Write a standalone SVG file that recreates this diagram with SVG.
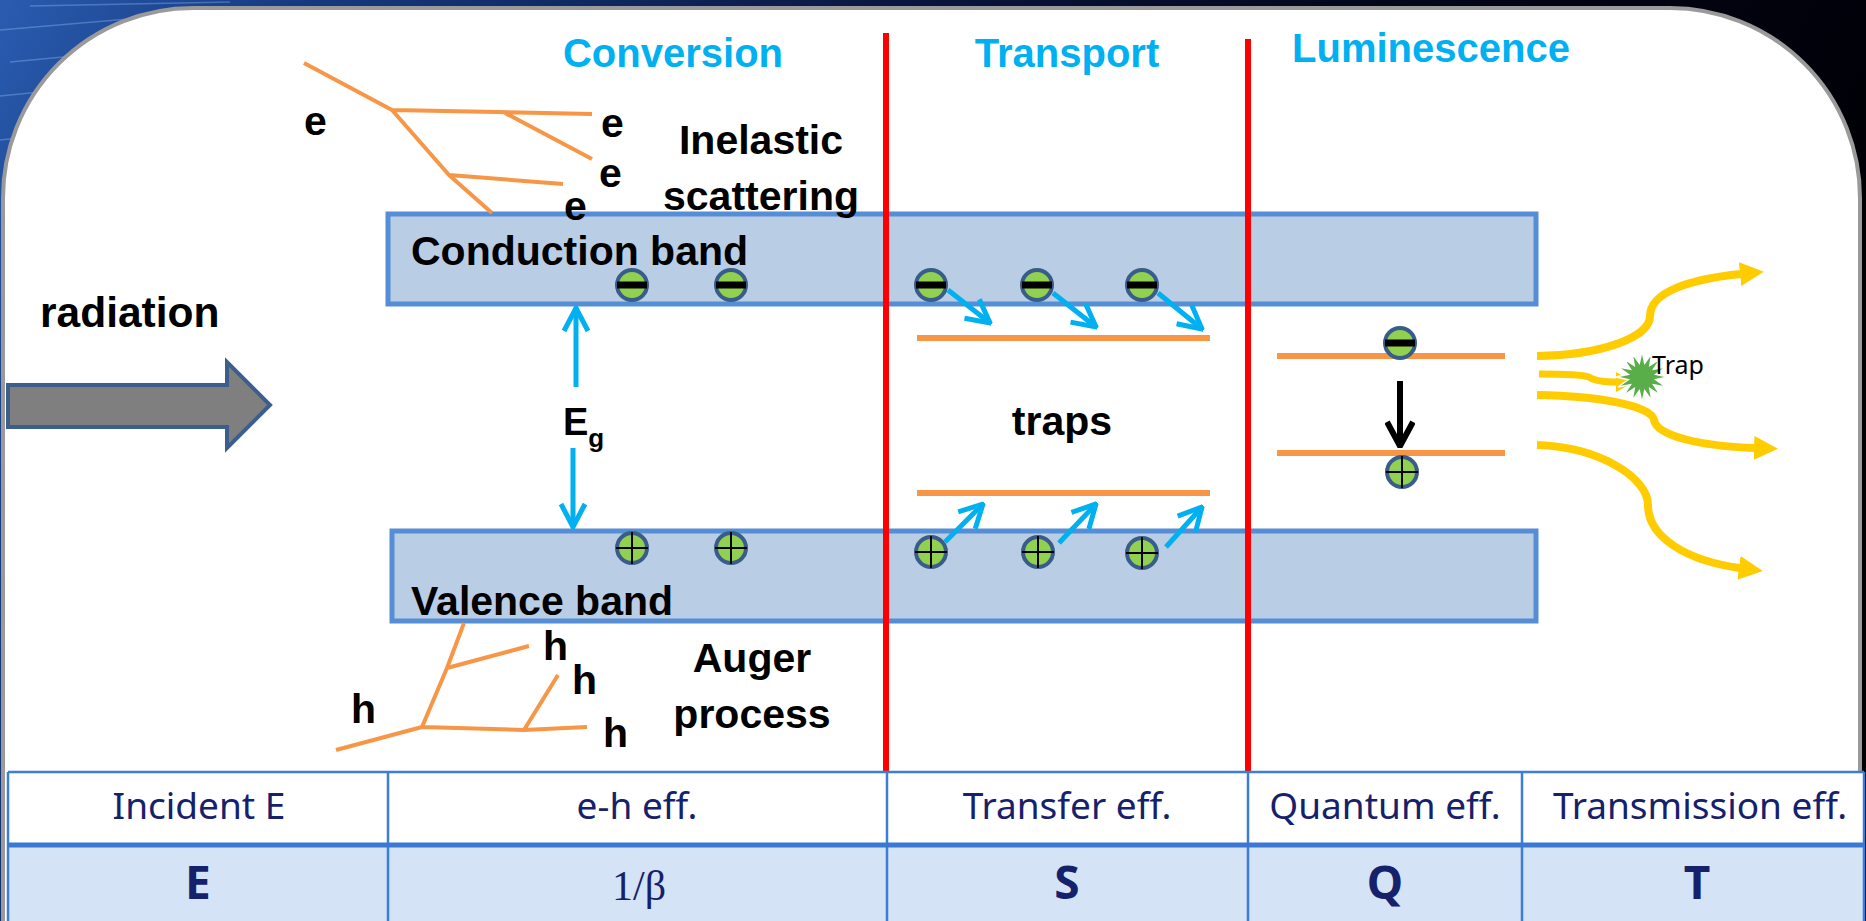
<svg xmlns="http://www.w3.org/2000/svg" width="1866" height="921" viewBox="0 0 1866 921">
  <style>
    .title{font-family:"Liberation Sans",Arial,sans-serif;font-weight:bold;font-size:40px;fill:#00b0f0;text-anchor:middle}
    .lbl{font-family:"Liberation Sans",Arial,sans-serif;font-weight:bold;font-size:41px;fill:#000}
    .mid{text-anchor:middle}
    .band{fill:#b9cde5;stroke:#558ed5;stroke-width:5}
    .sep{stroke:#ff0000;stroke-width:6}
    .track{stroke:#f79646;stroke-width:4;fill:none;stroke-linejoin:round}
    .level{stroke:#f79646;stroke-width:6}
    .carrier{fill:#92d050;stroke:#385d8a;stroke-width:4}
    .plus{stroke:#000;stroke-width:2}
    .cyan{stroke:#00b0f0;stroke-width:5;fill:none;marker-end:url(#cyanHead)}
    .drop{stroke:#000;stroke-width:6;fill:none;marker-end:url(#blackHead)}
    .photon{stroke:#ffcc00;stroke-width:8;fill:none;marker-end:url(#yellowHead)}
    .grid{stroke:#3c7dd8;stroke-width:2.5;fill:none}
    .hdr{font-family:"Comic Sans MS","Noto Sans",sans-serif;font-size:37px;fill:#16216b;text-anchor:middle}
    .val{font-family:"Comic Sans MS","Noto Sans",sans-serif;font-weight:bold;font-size:46px;fill:#16216b;text-anchor:middle}
  </style>
  <defs>
    <linearGradient id="bgGrad" x1="0" y1="0" x2="1" y2="0.25">
      <stop offset="0" stop-color="#2a5cb0"/>
      <stop offset="0.15" stop-color="#163a80"/>
      <stop offset="0.45" stop-color="#0a1640"/>
      <stop offset="0.7" stop-color="#03061a"/>
      <stop offset="1" stop-color="#000005"/>
    </linearGradient>
    <marker id="cyanHead" viewBox="0 0 30 30" refX="28" refY="15" markerWidth="30" markerHeight="30" markerUnits="userSpaceOnUse" orient="auto">
      <path d="M5,3 L28,15 L5,27" fill="none" stroke="#00b0f0" stroke-width="5"/>
    </marker>
    <marker id="blackHead" viewBox="0 0 30 30" refX="28" refY="15" markerWidth="30" markerHeight="30" markerUnits="userSpaceOnUse" orient="auto">
      <path d="M4,2 L28,15 L4,28" fill="none" stroke="#000" stroke-width="6"/>
    </marker>
    <marker id="yellowHead" viewBox="0 0 24 24" refX="1" refY="12" markerWidth="24" markerHeight="24" markerUnits="userSpaceOnUse" orient="auto">
      <path d="M0,0 L24,12 L0,24 Z" fill="#ffcc00"/>
    </marker>
    <marker id="yellowHeadSmall" viewBox="0 0 18 20" refX="1" refY="10" markerWidth="18" markerHeight="20" markerUnits="userSpaceOnUse" orient="auto">
      <path d="M0,0 L18,10 L0,20 Z" fill="#ffcc00"/>
    </marker>
    <g id="electron">
      <circle r="15" class="carrier"/>
      <rect x="-15" y="-3.5" width="30" height="7" fill="#000"/>
    </g>
    <g id="hole">
      <circle r="15" class="carrier"/>
      <line x1="-16" y1="0" x2="16" y2="0" class="plus"/>
      <line x1="0" y1="-16" x2="0" y2="16" class="plus"/>
    </g>
  </defs>

  <!-- backdrop and slide panel -->
  <g id="backdrop">
    <rect x="0" y="0" width="1866" height="921" fill="url(#bgGrad)"/>
    <g stroke="#9cc4ff" stroke-opacity="0.35" stroke-width="1.5">
      <line x1="0" y1="30" x2="140" y2="18"/>
      <line x1="10" y1="62" x2="95" y2="54"/>
      <line x1="0" y1="96" x2="70" y2="89"/>
      <line x1="30" y1="6" x2="230" y2="2"/>
      <line x1="0" y1="140" x2="40" y2="136"/>
    </g>
    <rect x="3" y="8" width="1857" height="1200" rx="190" fill="#ffffff" stroke="#9a9a9a" stroke-width="4"/>
  </g>

  <!-- stage titles -->
  <g id="titles">
    <text class="title" x="673" y="67">Conversion</text>
    <text class="title" x="1067" y="67">Transport</text>
    <text class="title" x="1431" y="62">Luminescence</text>
  </g>

  <!-- incoming radiation -->
  <g id="radiation">
    <text class="lbl" x="40" y="327" style="font-size:42.5px">radiation</text>
    <polygon points="8,385 227,385 227,362 270,405 227,448 227,427 8,427" fill="#7f7f7f" stroke="#3b5e8c" stroke-width="4"/>
  </g>

  <!-- energy bands -->
  <g id="conduction-band">
    <rect class="band" x="388" y="214" width="1148" height="90"/>
    <text class="lbl" x="411" y="265">Conduction band</text>
  </g>
  <g id="valence-band">
    <rect class="band" x="392" y="531" width="1144" height="90"/>
    <text class="lbl" x="411" y="615">Valence band</text>
  </g>

  <!-- inelastic scattering cascade -->
  <g id="scattering">
    <path class="track" d="M304,63 L392,110 L592,114 M505,113 L592,159 M392,110 L449,175 L492,213 M449,175 L563,184"/>
    <text class="lbl" x="304" y="135">e</text>
    <text class="lbl" x="601" y="137">e</text>
    <text class="lbl" x="599" y="187">e</text>
    <text class="lbl" x="564" y="220">e</text>
    <text class="lbl mid" x="761" y="154">Inelastic</text>
    <text class="lbl mid" x="761" y="210">scattering</text>
  </g>

  <!-- Auger cascade -->
  <g id="auger">
    <path class="track" d="M464,623 L447,668 L529,646 M447,668 L422,727 L336,750 M422,727 L524,730 L587,727 M524,730 L558,675"/>
    <text class="lbl" x="543" y="660">h</text>
    <text class="lbl" x="572" y="694">h</text>
    <text class="lbl" x="351" y="723">h</text>
    <text class="lbl" x="603" y="747">h</text>
    <text class="lbl mid" x="752" y="672">Auger</text>
    <text class="lbl mid" x="752" y="728">process</text>
  </g>

  <!-- band gap -->
  <g id="band-gap">
    <text class="lbl" x="563" y="435" style="font-size:38px">E<tspan dy="12" style="font-size:26px">g</tspan></text>
  </g>

  <!-- trap levels -->
  <g id="traps">
    <line class="level" x1="917" y1="338" x2="1210" y2="338"/>
    <line class="level" x1="917" y1="493" x2="1210" y2="493"/>
    <text class="lbl mid" x="1062" y="435">traps</text>
  </g>

  <!-- luminescence centre levels -->
  <g id="luminescence-centre">
    <line class="level" x1="1277" y1="356" x2="1505" y2="356"/>
    <line class="level" x1="1277" y1="453" x2="1505" y2="453"/>
  </g>

  <!-- charge carriers -->
  <g id="electrons">
    <use href="#electron" x="632" y="285"/>
    <use href="#electron" x="731" y="285"/>
    <use href="#electron" x="931" y="285"/>
    <use href="#electron" x="1037" y="285"/>
    <use href="#electron" x="1142" y="285"/>
    <use href="#electron" x="1400" y="343"/>
  </g>
  <g id="holes">
    <use href="#hole" x="632" y="548"/>
    <use href="#hole" x="731" y="548"/>
    <use href="#hole" x="931" y="552"/>
    <use href="#hole" x="1038" y="552"/>
    <use href="#hole" x="1142" y="553"/>
    <use href="#hole" x="1402" y="472"/>
  </g>

  <!-- connectors -->
  <g id="connectors">
    <path class="cyan" d="M576,387 L576,308"/>
    <path class="cyan" d="M573,448 L573,527"/>
    <path class="cyan" d="M948,290 L990,323"/>
    <path class="cyan" d="M1053,293 L1096,327"/>
    <path class="cyan" d="M1158,293 L1202,329"/>
    <path class="cyan" d="M945,542 L983,504"/>
    <path class="cyan" d="M1059,543 L1096,504"/>
    <path class="cyan" d="M1166,547 L1202,507"/>
    <path class="drop" d="M1400,381 L1400,446"/>
    <path class="photon" d="M1537,356 C1600,355 1650,338 1650,316 C1650,292 1690,279 1741,274"/>
    <path class="photon" d="M1539,374 C1565,374 1583,375 1589,377 C1594,381 1605,382 1617,382" style="stroke-width:7;marker-end:url(#yellowHeadSmall)"/>
    <path class="photon" d="M1537,395 C1600,396 1652,406 1654,420 C1657,436 1700,446 1755,448"/>
    <path class="photon" d="M1537,445 C1600,447 1648,478 1648,505 C1648,538 1688,561 1740,568"/>
  </g>

  <!-- trapping site for emitted light -->
  <g id="trap-site">
    <polygon points="1642,351 1644.7,363.3 1652,353 1649.8,365.4 1660.4,358.6 1653.6,369.2 1666,367 1655.7,374.3 1668,377 1655.7,379.7 1666,387 1653.6,384.8 1660.4,395.4 1649.8,388.6 1652,401 1644.7,390.7 1642,403 1639.3,390.7 1632,401 1634.2,388.6 1623.6,395.4 1630.4,384.8 1618,387 1628.3,379.7 1616,377 1628.3,374.3 1618,367 1630.4,369.2 1623.6,358.6 1634.2,365.4 1632,353 1639.3,363.3" fill="#5aae4a" stroke="#ffffff" stroke-width="1.5"/>
    <text x="1652" y="374" style="font-family:'Noto Sans','Open Sans',sans-serif;font-size:25px;fill:#000">Trap</text>
  </g>

  <!-- stage separators -->
  <g id="separators">
    <line class="sep" x1="886" y1="33" x2="886" y2="772"/>
    <line class="sep" x1="1248" y1="39" x2="1248" y2="772"/>
  </g>

  <!-- efficiency table -->
  <g id="table">
    <rect x="8" y="772" width="1856" height="73" fill="#ffffff"/>
    <rect x="8" y="845" width="1856" height="80" fill="#d5e3f7"/>
    <path class="grid" d="M8,772 H1864 M8,772 V921 M388,772 V921 M887,772 V921 M1248,772 V921 M1522,772 V921 M1864,772 V921"/>
    <line x1="8" y1="845" x2="1864" y2="845" stroke="#3a78d4" stroke-width="5"/>
    <text class="hdr" x="199" y="819">Incident E</text>
    <text class="hdr" x="637" y="819">e-h eff.</text>
    <text class="hdr" x="1067" y="819">Transfer eff.</text>
    <text class="hdr" x="1385" y="819">Quantum eff.</text>
    <text class="hdr" x="1700" y="819">Transmission eff.</text>
    <text class="val" x="198" y="899">E</text>
    <text x="639" y="900" style="font-family:'Liberation Serif','Times New Roman',serif;font-size:42px;fill:#16216b;text-anchor:middle">1/β</text>
    <text class="val" x="1067" y="899">S</text>
    <text class="val" x="1385" y="899">Q</text>
    <text class="val" x="1697" y="899">T</text>
  </g>
</svg>
